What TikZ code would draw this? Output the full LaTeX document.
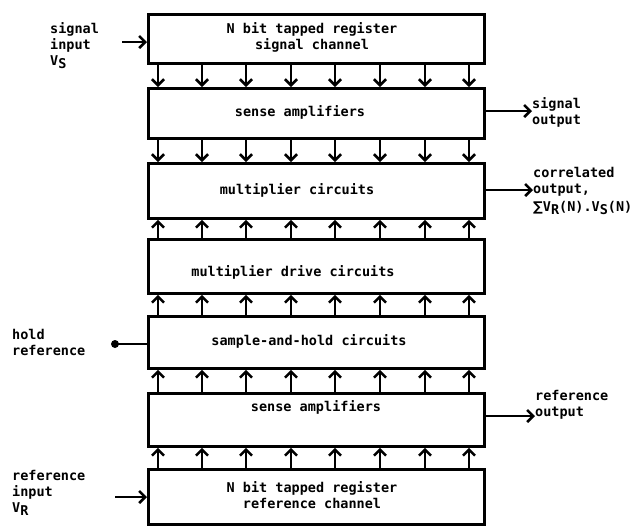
\documentclass[tikz,border=0pt]{standalone}
\usepackage{fontspec}
\setmonofont{DejaVu Sans Mono}
\usetikzlibrary{arrows.meta}
\newcommand{\lowr}[1]{\raisebox{-0.45ex}{#1}}
\begin{document}
\begin{tikzpicture}[x=1pt,y=-1pt,
  lbl/.style={font=\ttfamily\bfseries\fontsize{13.5}{16}\selectfont, inner sep=0pt},
  blk/.style={draw, line width=2.8pt, minimum width=336pt, inner sep=0pt, anchor=north west, align=center},
  arr/.style={line width=2.6pt, -{Straight Barb[length=6pt,width=12pt,line width=2.6pt]}},
  wire/.style={line width=2.6pt}]
\useasboundingbox (0,0) rectangle (643,531);
% boxes
\node[blk, minimum height=49pt] (b1) at (147,13) {};
\node[blk, minimum height=50pt] (b2) at (147,87) {};
\node[blk, minimum height=55pt] (b3) at (147,162) {};
\node[blk, minimum height=54pt] (b4) at (147,238) {};
\node[blk, minimum height=52pt] (b5) at (147,315) {};
\node[blk, minimum height=53pt] (b6) at (147,392) {};
\node[blk, minimum height=55pt] (b7) at (147,468) {};
% box texts
\node[lbl, align=center] (t1) at (312,37) {N bit tapped register\\signal channel};
\node[lbl] (t2) at (300,112) {sense amplifiers};
\node[lbl] (t3) at (297,190) {multiplier circuits};
\node[lbl] (t4) at (293,272) {multiplier drive circuits};
\node[lbl] (t5) at (309,341) {sample-and-hold circuits};
\node[lbl] (t6) at (316,407) {sense amplifiers};
\node[lbl, align=center] (t7) at (312,495) {N bit tapped register\\reference channel};
% tap positions
\foreach \i/\x in {1/158,2/202,3/246,4/291,5/335,6/380,7/425,8/469}{
  \coordinate (x\i) at (\x,0);
  \draw[arr] (x\i |- b1.south) -- (x\i |- b2.north);
  \draw[arr] (x\i |- b2.south) -- (x\i |- b3.north);
  \draw[arr] (x\i |- b4.north) -- (x\i |- b3.south);
  \draw[arr] (x\i |- b5.north) -- (x\i |- b4.south);
  \draw[arr] (x\i |- b6.north) -- (x\i |- b5.south);
  \draw[arr] (x\i |- b7.north) -- (x\i |- b6.south);
}
% left labels
\node[lbl, align=left, anchor=north west] (sin) at (50,22) {signal\\input\\V\lowr{S}};
\coordinate (sinA) at (122,42);
\draw[arr] (sinA) -- (sinA -| b1.west);
\node[lbl, align=left, anchor=north west] (hr) at (12,329) {hold\\reference};
\coordinate (hrA) at (115,344);
\fill (hrA) circle (4pt);
\draw[wire] (hrA) -- (hrA -| b5.west);
\node[lbl, align=left, anchor=north west] (rin) at (12,470) {reference\\input\\V\lowr{R}};
\coordinate (rinA) at (115,497);
\draw[arr] (rinA) -- (rinA -| b7.west);
% right labels
\node[lbl, align=left, anchor=north west] (sout) at (532,97) {signal\\output};
\draw[arr] (b2.east |- 0,111) -- (sout.west |- 0,111);
\node[lbl, align=left, anchor=north west] (cout) at (533,167) {correlated\\output,\\[2pt]{\fontspec{DejaVu Sans}∑}V\lowr{R}(N).V\lowr{S}(N)};
\draw[arr] (b3.east |- 0,190) -- (cout.west |- 0,190);
\node[lbl, align=left, anchor=north west] (rout) at (535,390) {reference\\output};
\draw[arr] (b6.east |- 0,416) -- (rout.west |- 0,416);
\end{tikzpicture}
\end{document}
